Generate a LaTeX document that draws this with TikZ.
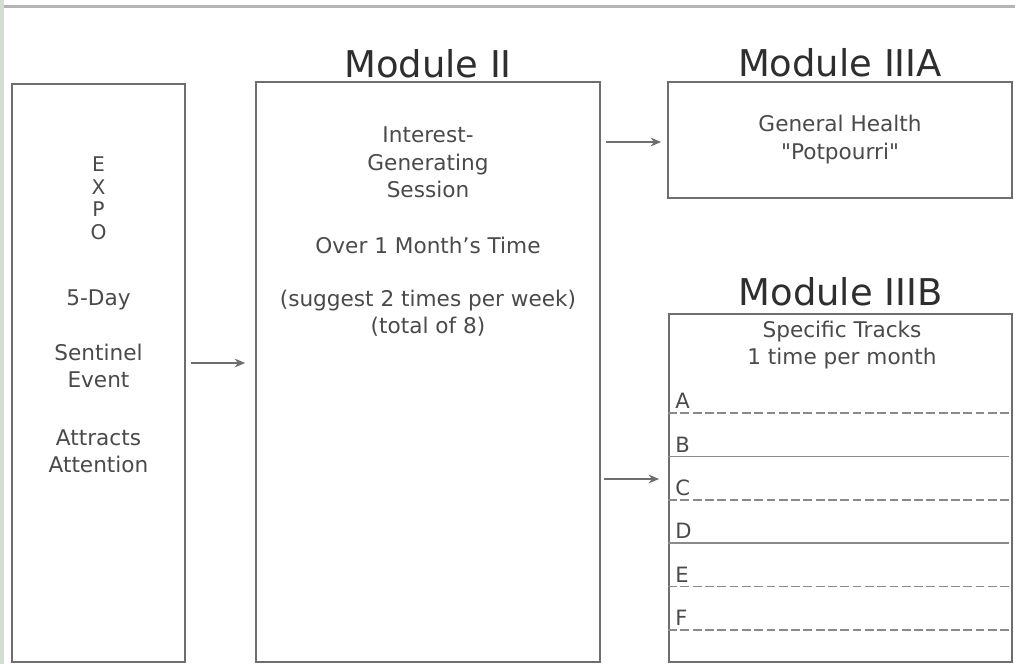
\documentclass[tikz,border=0pt]{standalone}
\usepackage{fontspec}
\setmainfont{DejaVu Sans}[Ligatures=TeXOff]
\usetikzlibrary{arrows.meta, positioning, calc}
\usepackage{xcolor}
\definecolor{SlideGreen}{HTML}{D3DED3}
\definecolor{RuleGray}{HTML}{B4B4B4}
\definecolor{BoxGray}{HTML}{6E6E6E}
\definecolor{TextGray}{HTML}{4A4A4A}
\definecolor{TitleGray}{HTML}{2E2E2E}
\definecolor{TrackGray}{HTML}{8A8A8A}
\tikzset{
    % Box styles - plain gray frames
    modulebox/.style={
        rectangle,
        draw=BoxGray,
        fill=white,
        line width=1pt,
        inner sep=0pt
    },
    moduletitle/.style={
        font=\fontsize{21}{25}\selectfont,
        text=TitleGray,
        inner sep=0pt
    },
    bodytext/.style={
        font=\fontsize{12.3}{15.6}\selectfont,
        text=TextGray,
        align=center,
        inner sep=0pt
    },
    tracklabel/.style={
        font=\fontsize{12}{14}\selectfont,
        text=TextGray,
        anchor=south west,
        inner sep=0pt
    },
    % Line styles
    arrow/.style={
        -{Stealth[length=6pt,width=5pt]},
        line width=0.8pt,
        draw=BoxGray
    },
    trackline/.style={
        line width=0.8pt,
        draw=TrackGray
    },
    trackdashed/.style={
        dash pattern=on 5pt off 2pt
    }
}
\begin{document}
\begin{tikzpicture}
    \useasboundingbox (0,0) rectangle (20.3,13.28);
    % Slide frame
    \fill[SlideGreen] (0,0) rectangle (0.07,13.28);
    \draw[RuleGray, line width=1.5pt] (0.07,13.15) -- (20.3,13.15);

    % Module boxes
    \node[modulebox, minimum width=3.46cm, minimum height=11.56cm] (expo) at (1.97,5.82) {};
    \node[modulebox, minimum width=6.88cm, minimum height=11.6cm] (modtwo) at (8.56,5.84) {};
    \node[modulebox, minimum width=6.88cm, minimum height=2.32cm] (modthreea) at (16.8,10.48) {};
    \node[modulebox, minimum width=6.86cm, minimum height=6.96cm] (modthreeb) at (16.81,3.52) {};

    % Titles
    \node[moduletitle, above=0.05cm of modtwo] (titletwo) {Module II};
    \node[moduletitle, above=0.08cm of modthreea] (titlethreea) {Module IIIA};
    \node[moduletitle, above=0.13cm of modthreeb] (titlethreeb) {Module IIIB};

    % Expo text
    \node[bodytext, font=\fontsize{11.5}{12.8}\selectfont] (expoword) at (1.97,9.31) {E\\X\\P\\O};
    \node[bodytext] (expoday) at (1.97,7.28) {5-Day};
    \node[bodytext] (expoevent) at (1.97,5.96) {Sentinel\\Event};
    \node[bodytext] (expoattn) at (1.97,4.25) {Attracts\\Attention};

    % Module II text
    \node[bodytext] (twosession) at (8.56,10.03) {Interest-\\Generating\\Session};
    \node[bodytext] (twomonth) at (8.56,8.38) {Over 1 Month’s Time};
    \node[bodytext] (twoweek) at (8.56,7.02) {(suggest 2 times per week)\\(total of 8)};

    % Module IIIA / IIIB text
    \node[bodytext] (threeahealth) at (16.8,10.49) {General Health\\"Potpourri"};
    \node[bodytext] (threebtracks) at (16.84,6.38) {Specific Tracks\\1 time per month};

    % Track rows
    \foreach \i/\lbl/\sty in {0/A/trackdashed, 1/B/solid, 2/C/trackdashed, 3/D/solid, 4/E/trackdashed, 5/F/trackdashed} {
        \pgfmathsetmacro{\y}{5.02-0.868*\i}
        \draw[trackline, \sty, shorten >=2pt] (modthreeb.west |- 0,\y) -- (modthreeb.east |- 0,\y);
        \node[tracklabel] (track\lbl) at (13.5,\y+0.08) {\lbl};
    }

    % Arrows
    \draw[arrow, shorten <=0.1cm, shorten >=0.2cm] (expo.east |- 0,6.02) -- (modtwo.west |- 0,6.02);
    \draw[arrow, shorten <=0.1cm, shorten >=0.12cm] (modtwo.east |- 0,10.44) -- (modthreea.west |- 0,10.44);
    \draw[arrow, shorten <=0.06cm, shorten >=0.18cm] (modtwo.east |- 0,3.7) -- (modthreeb.west |- 0,3.7);
\end{tikzpicture}
\end{document}
